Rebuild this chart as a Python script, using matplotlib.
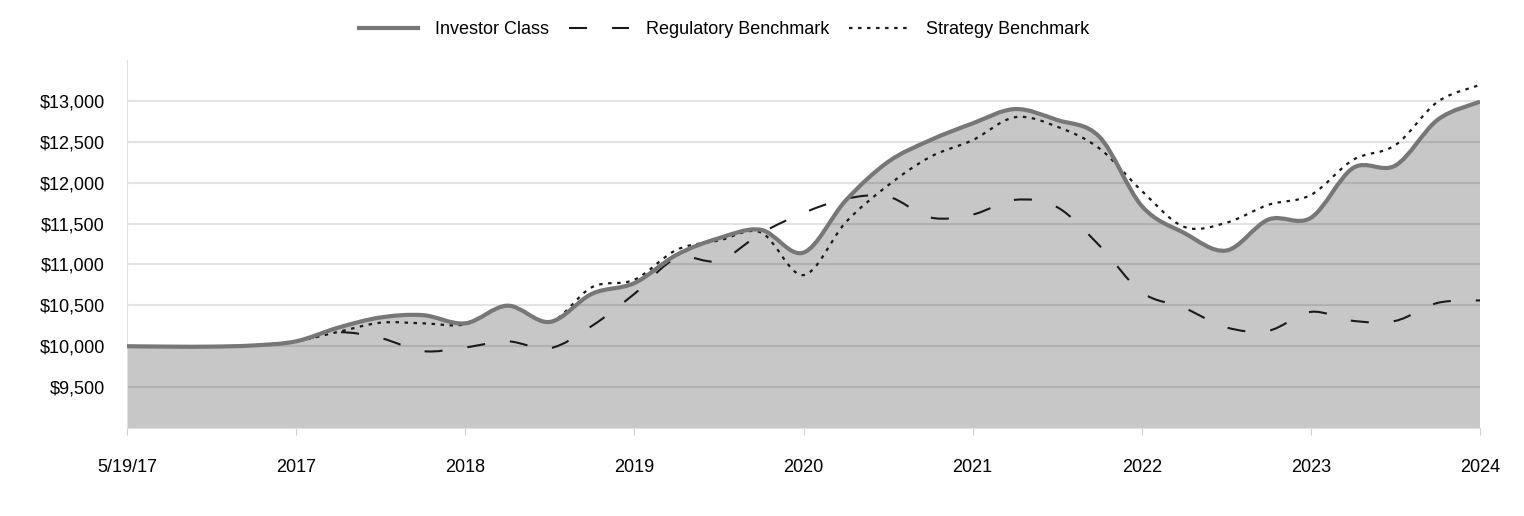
import numpy as np
import matplotlib
matplotlib.use("Agg")
import matplotlib.pyplot as plt
from matplotlib.path import Path
from matplotlib.patches import PathPatch
from matplotlib.lines import Line2D
from matplotlib.ticker import FuncFormatter

plt.rcParams['font.family'] = ['Liberation Sans', 'DejaVu Sans']
plt.rcParams['lines.scale_dashes'] = False

# quarterly values, 5/19/17 .. 2024
tick_labels = ["5/19/17", "2017", "2018", "2019", "2020", "2021", "2022", "2023", "2024"]
investor = [10000, 9995, 9995, 10010, 10060, 10228, 10352, 10380, 10280,
            10496, 10297, 10642, 10772, 11118, 11321, 11423, 11145,
            11783, 12254, 12520, 12725, 12900, 12766, 12560, 11715,
            11386, 11170, 11550, 11570, 12180, 12210, 12770, 12990]
regulatory = [10000, 9995, 9995, 10010, 10060, 10170, 10100, 9940, 9985,
              10060, 9975, 10250, 10640, 11077, 11045, 11382, 11630,
              11803, 11830, 11574, 11610, 11790, 11700, 11230, 10660,
              10470, 10230, 10190, 10420, 10310, 10310, 10530, 10560]
strategy = [10000, 10000, 10000, 10010, 10060, 10176, 10288, 10280, 10268,
            10496, 10297, 10723, 10813, 11179, 11293, 11390, 10870,
            11516, 11967, 12316, 12520, 12800, 12684, 12418, 11900,
            11460, 11510, 11730, 11850, 12280, 12460, 12990, 13195]

YMIN, YMAX = 9000, 13500


def spline_path(x, y, close_to=None):
    # catmull-rom through the points, as cubic bezier segments
    pts = np.column_stack([x, y]).astype(float)
    p = np.vstack([pts[0], pts, pts[-1]])
    verts = [pts[0]]
    codes = [Path.MOVETO]
    for i in range(1, len(p) - 2):
        c1 = p[i] + (p[i + 1] - p[i - 1]) / 6.0
        c2 = p[i + 1] - (p[i + 2] - p[i]) / 6.0
        verts += [c1, c2, p[i + 1]]
        codes += [Path.CURVE4] * 3
    if close_to is not None:
        verts += [(x[-1], close_to), (x[0], close_to), pts[0]]
        codes += [Path.LINETO, Path.LINETO, Path.CLOSEPOLY]
    return Path(verts, codes)


fig = plt.figure(figsize=(15.24, 5.16), dpi=100)
ax = fig.add_axes([127 / 1524, 88 / 516, 1353 / 1524, 368 / 516])

x = np.arange(len(investor))

ax.add_patch(PathPatch(spline_path(x, investor, close_to=YMIN), facecolor="black",
                       alpha=0.22, edgecolor="none", zorder=1))
ax.add_patch(PathPatch(spline_path(x, regulatory), fill=False, edgecolor="#1a1a1a",
                       lw=1.5, linestyle=(0, (13, 18)), zorder=3))
ax.add_patch(PathPatch(spline_path(x, strategy), fill=False, edgecolor="#1a1a1a",
                       lw=1.6, linestyle=(0, (2.5, 4)), zorder=3))
ax.add_patch(PathPatch(spline_path(x, investor), fill=False, edgecolor="#777777",
                       lw=3, zorder=4))

ax.set_xlim(0, len(investor) - 1)
ax.set_ylim(YMIN, YMAX)
ax.set_xticks(np.arange(0, len(investor), 4))
ax.set_xticklabels(tick_labels)
ax.set_yticks(np.arange(9500, 13001, 500))
ax.yaxis.set_major_formatter(FuncFormatter(lambda v, _: "${:,.0f}".format(v)))

ax.grid(axis="y", color="#e3e3e3", lw=1.5, zorder=0)
ax.set_axisbelow(True)
for s in ["top", "right"]:
    ax.spines[s].set_visible(False)
ax.spines["left"].set_color("#e0e0e0")
ax.spines["bottom"].set_color("#e0e0e0")
ax.tick_params(axis="y", length=0, pad=16, labelsize=13)
ax.tick_params(axis="x", length=5, color="#d0d0d0", pad=17, labelsize=13)

handles = [Line2D([], [], color="#777777", lw=3),
           Line2D([], [], color="#1a1a1a", lw=1.5, linestyle=(0, (13, 18))),
           Line2D([], [], color="#1a1a1a", lw=1.6, linestyle=(0, (2.5, 4)))]
fig.legend(handles, ["Investor Class", "Regulatory Benchmark", "Strategy Benchmark"],
           loc="center", bbox_to_anchor=(724 / 1524, 1 - 30 / 516), ncol=3,
           frameon=False, fontsize=13, handlelength=3.3, handletextpad=0.95,
           columnspacing=1.1)

fig.savefig("out.png", dpi=100)
